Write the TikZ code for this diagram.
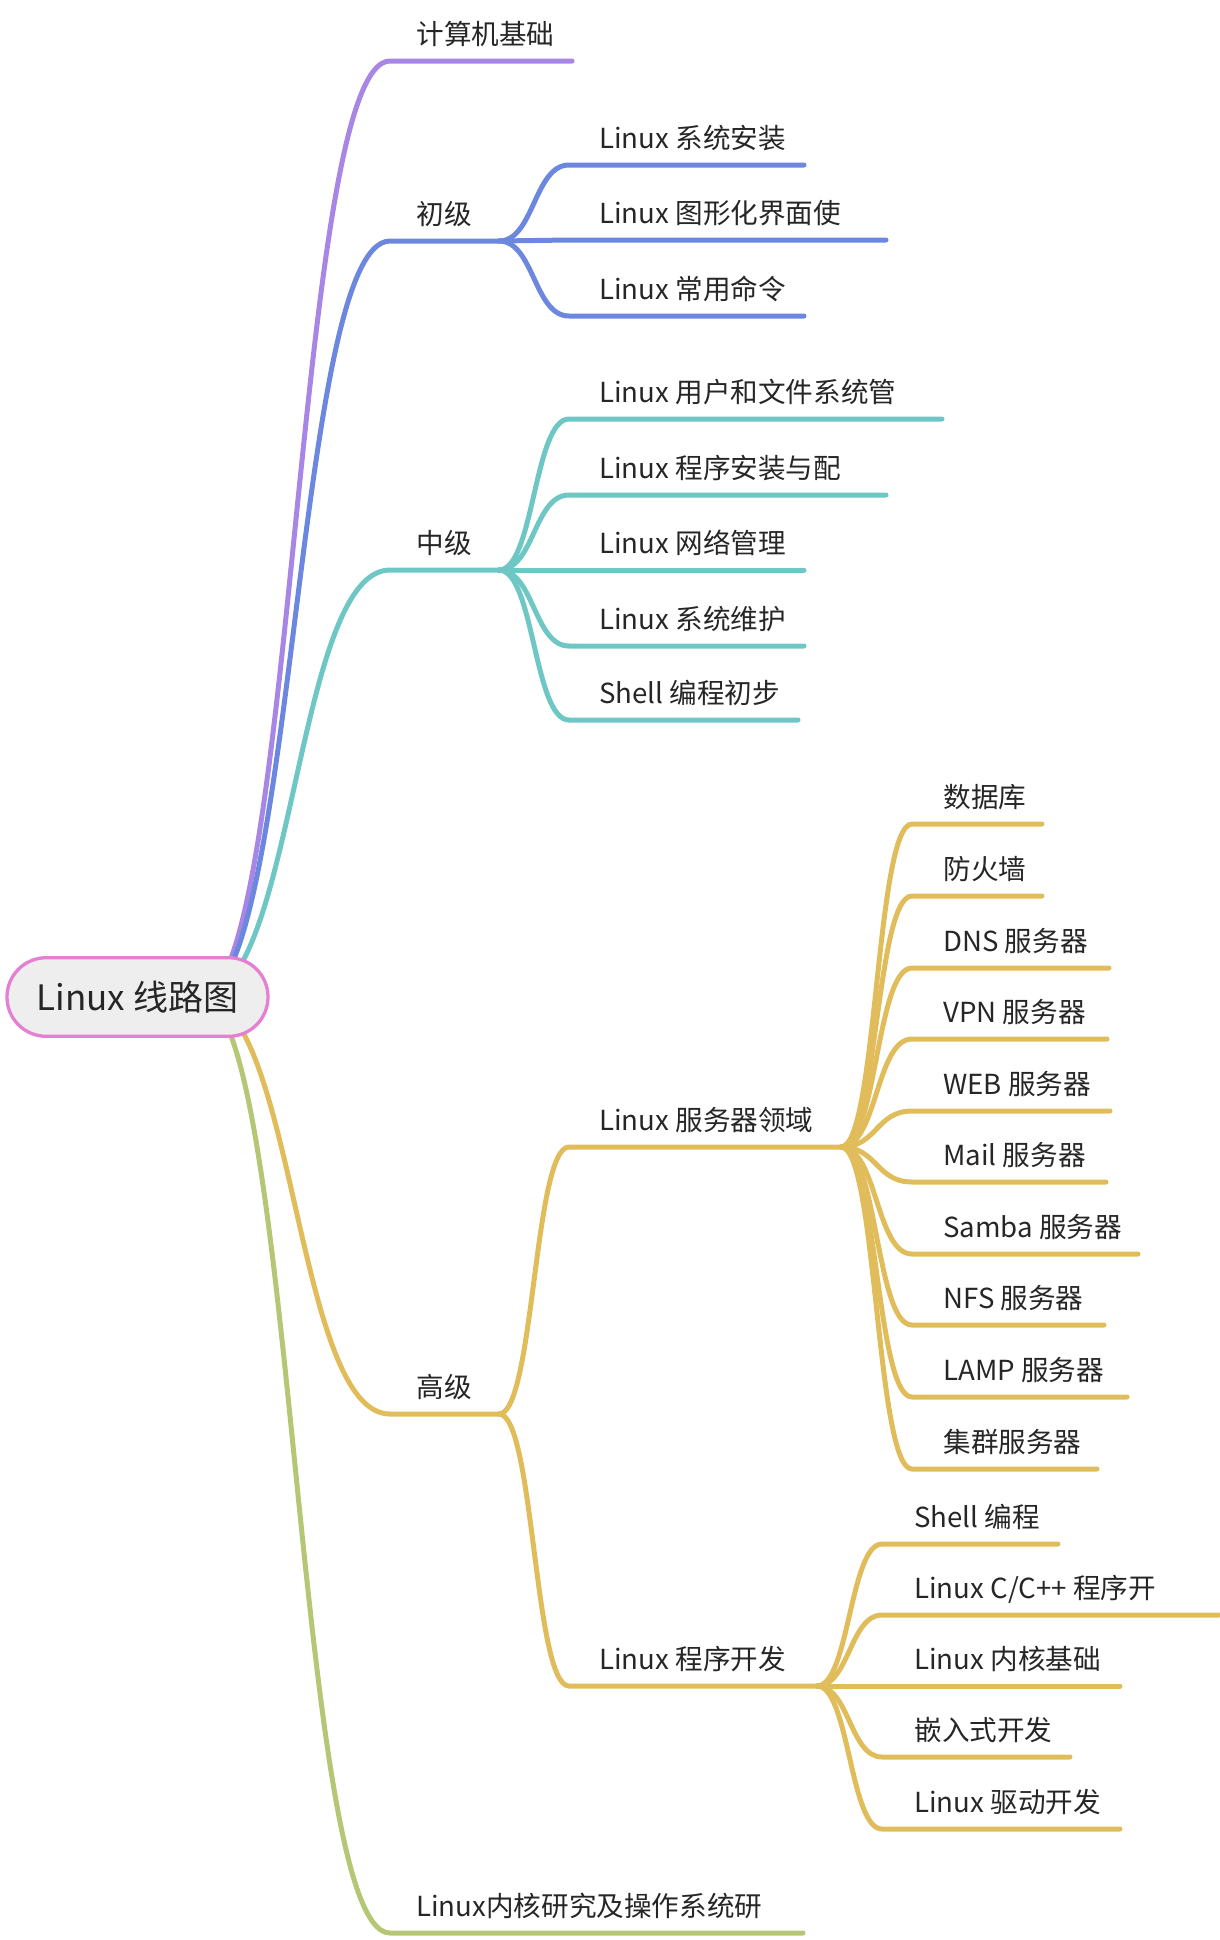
\documentclass[tikz,border=0pt]{standalone}
\usepackage{fontspec}
\setmainfont{Noto Sans CJK SC}
\definecolor{mmpurple}{HTML}{A886E6}
\definecolor{mmblue}{HTML}{6C87DF}
\definecolor{mmteal}{HTML}{6EC7C5}
\definecolor{mmyellow}{HTML}{E0BD5A}
\definecolor{mmgreen}{HTML}{B5C774}
\definecolor{mmpink}{HTML}{E57FD3}
\definecolor{mmfill}{HTML}{EEEEEE}
\definecolor{mmtext}{HTML}{262626}

\tikzset{
  branch/.style={line width=2.5pt, line cap=round},
  topic/.style={anchor=base west, inner sep=0pt, text=mmtext,
    font=\fontsize{13.8pt}{16pt}\selectfont},
  centre/.style={draw=mmpink, line width=1.65pt, fill=mmfill,
    rounded corners=19.6pt, minimum width=130.5pt, minimum height=39.3pt,
    inner sep=0pt, text=mmtext, font=\fontsize{17.5pt}{20pt}\selectfont},
}

\begin{document}
\begin{tikzpicture}[x=0.5pt, y=-0.5pt]
    \useasboundingbox (0,0) rectangle (1220,1940);

    % hub under the root, where the main branches start
    \coordinate (hub) at (200,997);

    % main branches
    \coordinate (basic) at (390,61);    \coordinate (basic-e) at (572,61);
    \coordinate (junior) at (390,241);  \coordinate (junior-e) at (499,241);
    \coordinate (middle) at (390,570);  \coordinate (middle-e) at (499,570);
    \coordinate (senior) at (390,1414); \coordinate (senior-e) at (499,1414);
    \coordinate (kernel) at (390,1933); \coordinate (kernel-e) at (803,1933);

    \draw [branch,mmpurple] (hub) .. controls +(95,0) and +(-95,0) .. (basic) -- (basic-e);
    \draw [branch,mmblue] (hub) .. controls +(95,0) and +(-95,0) .. (junior) -- (junior-e);
    \draw [branch,mmteal] (hub) .. controls +(95,0) and +(-95,0) .. (middle) -- (middle-e);
    \draw [branch,mmyellow] (hub) .. controls +(95,0) and +(-95,0) .. (senior) -- (senior-e);
    \draw [branch,mmgreen] (hub) .. controls +(95,0) and +(-95,0) .. (kernel) -- (kernel-e);

    \node [topic] (basic-t) at (416,44) {计算机基础};
    \node [topic] (junior-t) at (416,224) {初级};
    \node [topic] (middle-t) at (416,553) {中级};
    \node [topic] (senior-t) at (416,1397) {高级};
    \node [topic] (kernel-t) at (416,1916) {Linux内核研究及操作系统研};

    % 初级
    \foreach \y/\e/\t [count=\i] in {165/804/{Linux 系统安装}, 240/886/{Linux 图形化界面使},
        316/804/{Linux 常用命令}} {
        \coordinate (jr\i) at (569,\y);
        \coordinate (jr\i-e) at (\e,\y);
        \draw [branch,mmblue] (junior-e) .. controls +(35,0) and +(-35,0) .. (jr\i) -- (jr\i-e);
        \node [topic] (jr\i-t) at (599,\y-17) {\t};
    }

    % 中级
    \foreach \y/\e/\t [count=\i] in {419/942/{Linux 用户和文件系统管}, 495/886/{Linux 程序安装与配},
        570/804/{Linux 网络管理}, 646/804/{Linux 系统维护}, 720/798/{Shell 编程初步}} {
        \coordinate (md\i) at (569,\y);
        \coordinate (md\i-e) at (\e,\y);
        \draw [branch,mmteal] (middle-e) .. controls +(35,0) and +(-35,0) .. (md\i) -- (md\i-e);
        \node [topic] (md\i-t) at (599,\y-17) {\t};
    }

    % 高级
    \coordinate (server) at (569,1147); \coordinate (server-e) at (841,1147);
    \coordinate (coding) at (569,1686); \coordinate (coding-e) at (817,1686);
    \draw [branch,mmyellow] (senior-e) .. controls +(35,0) and +(-35,0) .. (server) -- (server-e);
    \draw [branch,mmyellow] (senior-e) .. controls +(35,0) and +(-35,0) .. (coding) -- (coding-e);
    \node [topic] (server-t) at (599,1130) {Linux 服务器领域};
    \node [topic] (coding-t) at (599,1669) {Linux 程序开发};

    \foreach \y/\e/\t [count=\i] in {824/1042/{数据库}, 896/1042/{防火墙}, 968/1109/{DNS 服务器},
        1039/1107/{VPN 服务器}, 1111/1110/{WEB 服务器}, 1182/1106/{Mail 服务器},
        1254/1138/{Samba 服务器}, 1325/1104/{NFS 服务器}, 1397/1127/{LAMP 服务器},
        1469/1097/{集群服务器}} {
        \coordinate (sv\i) at (912,\y);
        \coordinate (sv\i-e) at (\e,\y);
        \draw [branch,mmyellow] (server-e) .. controls +(36,0) and +(-36,0) .. (sv\i) -- (sv\i-e);
        \node [topic] (sv\i-t) at (943,\y-17) {\t};
    }

    \foreach \y/\e/\t [count=\i] in {1544/1058/{Shell 编程}, 1615/1219/{Linux C/C++ 程序开},
        1686/1120/{Linux 内核基础}, 1757/1070/{嵌入式开发}, 1829/1120/{Linux 驱动开发}} {
        \coordinate (cd\i) at (882,\y);
        \coordinate (cd\i-e) at (\e,\y);
        \draw [branch,mmyellow] (coding-e) .. controls +(32,0) and +(-32,0) .. (cd\i) -- (cd\i-e);
        \node [topic] (cd\i-t) at (914,\y-17) {\t};
    }

    % root on top of the branch starts
    \node [centre] (root) at (137.5,997) {Linux 线路图};
\end{tikzpicture}
\end{document}
